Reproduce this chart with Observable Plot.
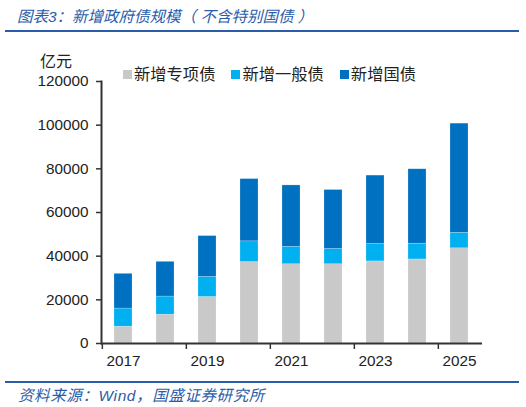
<!DOCTYPE html>
<html>
<head>
<meta charset="utf-8">
<script src="https://cdn.jsdelivr.net/npm/d3@7"></script>
<script src="https://cdn.jsdelivr.net/npm/@observablehq/plot@0.6"></script>
<style>
  body { margin: 0; background: #fff; font-family: "Liberation Sans", "Noto Sans CJK SC", sans-serif; }
  #wrap { position: relative; width: 526px; height: 407px; overflow: hidden; }
  .title { position: absolute; left: 17px; top: 4px; font-size: 15.5px; font-style: italic; color: #2a5caa; white-space: nowrap; }
  .hr { position: absolute; left: 5px; width: 514px; height: 2px; background: #2a5caa; }
  .foot { position: absolute; left: 18px; top: 383px; font-size: 15.5px; letter-spacing: 0.6px; font-style: italic; color: #2a5caa; white-space: nowrap; }
  .unit { position: absolute; left: 40px; top: 48px; font-size: 16px; color: #222; }
  #legend { position: absolute; left: 123px; top: 61px; font-size: 16.3px; color: #222; white-space: nowrap; }
  #legend span { margin-right: 16px; }
  #legend i { display: inline-block; width: 9px; height: 9px; margin-right: 2px; vertical-align: 1px; }
  #chart_1 { position: absolute; left: 0; top: 36px; }
</style>
</head>
<body>
<div id="wrap">
  <div class="title">图表3：新增政府债规模（ 不含特别国债 ）</div>
  <div class="hr" style="top:30px"></div>
  <div class="unit">亿元</div>
  <div id="legend"></div>
  <div id="chart_1"></div>
  <div class="hr" style="top:381px"></div>
  <div class="foot">资料来源：Wind，国盛证券研究所</div>
</div>
<script>
const years = ["2017", "2018", "2019", "2020", "2021", "2022", "2023", "2024", "2025"];
const series = ["新增专项债", "新增一般债", "新增国债"];
const colors = ["#c9c9c9", "#00b0f0", "#0070c0"];
const zhuanxiang = [7700, 13200, 21300, 37300, 36300, 36300, 37600, 38500, 43600];
const yiban = [8300, 8300, 9200, 9500, 8000, 7000, 8000, 7200, 7100];
const guozhai = [15900, 15900, 18700, 28500, 28100, 27000, 31300, 34100, 50000];
const yTicks = [0, 20000, 40000, 60000, 80000, 100000, 120000];
const xTicks = ["2017", "2019", "2021", "2023", "2025"];

const rows = [];
years.forEach((yr, i) => {
  rows.push({year: yr, type: series[0], value: zhuanxiang[i]});
  rows.push({year: yr, type: series[1], value: yiban[i]});
  rows.push({year: yr, type: series[2], value: guozhai[i]});
});

// legend
d3.select("#legend").selectAll("span").data(series).join("span")
  .html((d, i) => `<i style="background:${colors[i]}"></i>${d}`);

const marginLeft = 101, marginRight = 44, W = 526;
const step = (W - marginLeft - marginRight) / years.length;

let chart_1 = Plot.plot({
  width: W,
  height: 338,
  marginTop: 45,
  marginBottom: 31,
  marginLeft: marginLeft,
  marginRight: marginRight,
  style: {fontFamily: "Liberation Sans, Noto Sans CJK SC, sans-serif", fontSize: "15.3px", color: "#222"},
  x: {domain: years, paddingInner: 0.57, paddingOuter: 0.285, label: null},
  y: {domain: [0, 120000], label: null},
  color: {domain: series, range: colors},
  marks: [
    Plot.barY(rows, Plot.stackY({x: "year", y: "value", fill: "type", order: series, stroke: "white", strokeOpacity: 0.35, strokeWidth: 0.6})),
    Plot.axisY({ticks: yTicks, tickFormat: d => String(d), tickSize: 5, tickPadding: 8, stroke: "#333", strokeWidth: 1.5, fontSize: 15.3, label: null}),
    Plot.axisX({ticks: xTicks, tickSize: 6, dx: -step / 2, tickFormat: () => "", stroke: "#333", strokeWidth: 1.5, label: null}),
    Plot.axisX({ticks: xTicks, tickSize: 0, tickPadding: 12, fontSize: 15.3, label: null}),
    Plot.frame({anchor: "left", stroke: "#333", strokeWidth: 2}),
    Plot.ruleY([0], {stroke: "#333", strokeWidth: 2})
  ]
});
d3.select('#chart_1').append(() => chart_1);
</script>
</body>
</html>
